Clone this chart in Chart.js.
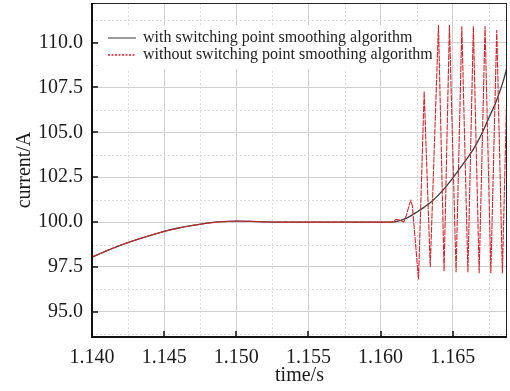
<!DOCTYPE html>
<html>
<head>
<meta charset="utf-8">
<script src="https://cdn.jsdelivr.net/npm/chart.js@4"></script>
<style>
  body { margin: 0; background: #fff; }
  canvas { display: block; }
</style>
</head>
<body>
<canvas id="chart" width="510" height="391"></canvas>
<script>
// tramo común: las dos curvas coinciden hasta ~1.1608 s
const tCommon = [1.140, 1.141, 1.142, 1.143, 1.144, 1.145, 1.146, 1.147, 1.148, 1.149, 1.150, 1.151, 1.152, 1.153, 1.1608];
const iCommon = [98.05, 98.40, 98.72, 99.00, 99.25, 99.48, 99.67, 99.82, 99.94, 100.02, 100.05, 100.04, 100.01, 100.00, 100.00];

// con algoritmo de suavizado
const tWith = [1.1612, 1.1616, 1.1620, 1.1625, 1.1630, 1.1635, 1.1640, 1.1645, 1.1650, 1.1655, 1.1660, 1.1665, 1.1670, 1.1675, 1.1680, 1.1685, 1.1690];
const iWith = [100.05, 100.15, 100.30, 100.55, 100.82, 101.12, 101.50, 101.95, 102.45, 103.00, 103.55, 104.15, 104.90, 105.80, 106.70, 107.85, 109.40];

// sin algoritmo de suavizado
const tWithout = [1.1611, 1.1613, 1.1616, 1.1618, 1.1620, 1.1621, 1.1622, 1.16263, 1.16302, 1.16344, 1.16401, 1.16440, 1.16477, 1.16523, 1.16563, 1.16605, 1.16643, 1.16683, 1.16724, 1.16764, 1.16805, 1.16844, 1.16886];
const iWithout = [100.15, 100.12, 100.00, 100.40, 101.00, 101.20, 100.90, 96.80, 107.28, 97.50, 110.97, 97.26, 110.97, 97.20, 110.90, 97.20, 110.90, 97.15, 110.90, 97.15, 110.70, 97.15, 110.90];

const xTicks = [1.140, 1.145, 1.150, 1.155, 1.160, 1.165];
const xMinor = [1.1425, 1.1475, 1.1525, 1.1575, 1.1625, 1.1675];
const yTicks = [95.0, 97.5, 100.0, 102.5, 105.0, 107.5, 110.0];
const yMinor = [93.75, 96.25, 98.75, 101.25, 103.75, 106.25, 108.75, 111.25];

const labels = ['with switching point smoothing algorithm', 'without switching point smoothing algorithm'];

function toPoints(ts, vs) {
  return ts.map((t, k) => ({ x: t, y: vs[k] }));
}

Chart.defaults.font.family = '"Liberation Serif", "Times New Roman", serif';
Chart.defaults.color = '#1a1a1a';

// rejilla menor punteada, leyenda con fondo blanco, marco y marcas hacia dentro
const decoPlugin = {
  id: 'deco',
  beforeDatasetsDraw(chart) {
    const { ctx, chartArea: a, scales } = chart;
    ctx.save();
    ctx.strokeStyle = '#dcdcdc';
    ctx.lineWidth = 1;
    ctx.setLineDash([2, 2]);
    xMinor.forEach(v => {
      const x = Math.round(scales.x.getPixelForValue(v)) + 0.5;
      ctx.beginPath(); ctx.moveTo(x, a.top); ctx.lineTo(x, a.bottom); ctx.stroke();
    });
    yMinor.forEach(v => {
      const y = Math.round(scales.y.getPixelForValue(v)) + 0.5;
      ctx.beginPath(); ctx.moveTo(a.left, y); ctx.lineTo(a.right, y); ctx.stroke();
    });
    ctx.setLineDash([]);

    // leyenda
    ctx.fillStyle = '#fff';
    ctx.fillRect(a.left + 7, a.top + 22, 340, 44);
    ctx.font = '16px "Liberation Serif", serif';
    ctx.textBaseline = 'middle';
    const sample = [{ c: '#666', d: [] }, { c: '#d9262c', d: [2, 1.5] }];
    labels.forEach((txt, i) => {
      const y = a.top + 35 + i * 17;
      ctx.strokeStyle = sample[i].c;
      ctx.lineWidth = 1.3;
      ctx.setLineDash(sample[i].d);
      ctx.beginPath(); ctx.moveTo(a.left + 16, y); ctx.lineTo(a.left + 44, y); ctx.stroke();
      ctx.setLineDash([]);
      ctx.fillStyle = '#222';
      ctx.fillText(txt, a.left + 51, y);
    });
    ctx.restore();
  },
  afterDraw(chart) {
    const { ctx, chartArea: a, scales } = chart;
    ctx.save();
    ctx.strokeStyle = '#222';
    ctx.lineWidth = 1;
    ctx.strokeRect(a.left + 0.5, a.top + 0.5, a.right - a.left - 1, a.bottom - a.top - 1);
    ctx.strokeStyle = '#111';
    ctx.lineWidth = 2;
    ctx.beginPath();
    ctx.moveTo(a.left, a.top); ctx.lineTo(a.left, a.bottom); ctx.lineTo(a.right, a.bottom);
    ctx.stroke();
    ctx.lineWidth = 1.5;
    xTicks.forEach(v => {
      const x = Math.round(scales.x.getPixelForValue(v));
      ctx.beginPath(); ctx.moveTo(x, a.bottom); ctx.lineTo(x, a.bottom - 6); ctx.stroke();
    });
    yTicks.forEach(v => {
      const y = Math.round(scales.y.getPixelForValue(v));
      ctx.beginPath(); ctx.moveTo(a.left, y); ctx.lineTo(a.left + 6, y); ctx.stroke();
    });
    ctx.restore();
  }
};

const ctx = document.getElementById('chart').getContext('2d');
const myChart = new Chart(ctx, {
  type: 'line',
  data: {
    datasets: [
      {
        label: labels[0],
        data: toPoints(tCommon.concat(tWith), iCommon.concat(iWith)),
        borderColor: '#3a3a3a',
        borderWidth: 1.3,
        pointRadius: 0,
        tension: 0.3,
        order: 2,
      },
      {
        label: labels[1],
        data: toPoints(tCommon.concat(tWithout), iCommon.concat(iWithout)),
        borderColor: '#d9262c',
        borderWidth: 1.1,
        borderDash: [6, 1],
        pointRadius: 0,
        tension: 0,
        order: 1,
      },
    ],
  },
  options: {
    responsive: false,
    animation: false,
    layout: { padding: { top: 3, right: 3, left: 0, bottom: 0 } },
    plugins: { legend: { display: false }, tooltip: { enabled: false } },
    scales: {
      x: {
        type: 'linear',
        min: 1.140,
        max: 1.16876,
        afterBuildTicks: s => { s.ticks = xTicks.map(v => ({ value: v })); },
        afterFit: s => { s.height = 54; s.paddingLeft = 0; s.paddingRight = 0; },
        ticks: { font: { size: 20 }, padding: 9, maxRotation: 0, callback: v => v.toFixed(3) },
        grid: { color: '#cfcfcf', lineWidth: 1, drawTicks: false },
        border: { display: false },
        title: { display: true, text: 'time/s', font: { size: 20 }, padding: { top: 0, bottom: 3 } },
      },
      y: {
        min: 93.6,
        max: 112.2,
        afterBuildTicks: s => { s.ticks = yTicks.map(v => ({ value: v })); },
        afterFit: s => { s.width = 92; s.paddingTop = 0; s.paddingBottom = 0; },
        ticks: { font: { size: 20 }, padding: 9, callback: v => v.toFixed(1) },
        grid: { color: '#cfcfcf', lineWidth: 1, drawTicks: false },
        border: { display: false },
        title: { display: true, text: 'current/A', font: { size: 20 }, padding: { top: 13, bottom: 0 } },
      },
    },
  },
  plugins: [decoPlugin],
});
</script>
</body>
</html>
